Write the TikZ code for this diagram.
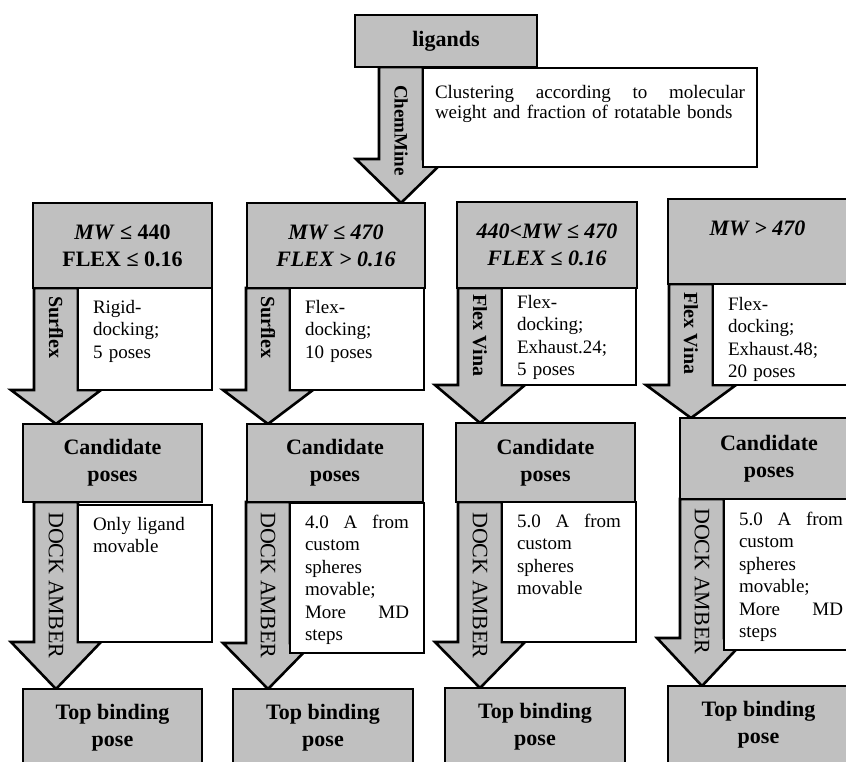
\documentclass[tikz,border=0pt]{standalone}
\usepackage{fontspec}
\setmainfont{Liberation Serif}
\usepackage{tikz}
\usetikzlibrary{calc}
\usepackage{xcolor}
\definecolor{flowgray}{RGB}{192,192,192}
\pgfdeclarelayer{back}
\pgfsetlayers{back,main}
\tikzset{
    % grey step boxes
    graybox/.style={rectangle, draw=black, fill=flowgray, line width=2.6pt,
                inner sep=0pt, outer sep=0pt, anchor=north west, align=center,
                font=\fontsize{22}{27}\selectfont\bfseries},
    % white side notes
    notebox/.style={rectangle, draw=black, fill=white, line width=2.6pt,
                inner xsep=15pt, inner ysep=0pt, outer sep=0pt, anchor=north west,
                text width=104pt, text height=25pt, align=left,
                font=\fontsize{19}{22.5}\selectfont},
    % labels on the arrows
    arrowlbl/.style={rotate=-90, anchor=west, inner sep=0pt,
                font=\fontsize{20}{24}\selectfont\bfseries},
    docklbl/.style={arrowlbl, font=\fontsize{22}{24}\selectfont},
    % block arrows
    blockarr/.style={draw=black, fill=flowgray, line width=2.6pt, line join=miter},
}
% block arrow: [lift of head] {from} {note beside it} {to}
\newcommand{\blockarrow}[4][0pt]{%
  \filldraw[blockarr] let \p1=(#2.south), \p2=(#3.south west), \p3=(#4.north) in
    (\x2-44pt,\y1) -- (\x2,\y1) -- (\x2,\y2+#1) -- (\x2+23pt,\y2+#1)
    -- (\x2-22pt,\y3) -- (\x2-67pt,\y2+#1) -- (\x2-44pt,\y2+#1) -- cycle;
}

\begin{document}
\begin{tikzpicture}[x=1pt, y=1pt]
\useasboundingbox (0,0) rectangle (846,-762);

% ligands
\node[graybox, minimum width=182pt, minimum height=52pt] (lig) at (355,-15) {ligands};
\node[notebox, inner xsep=12pt, text width=310pt, text height=31pt, text depth=68pt,
      font=\fontsize{19}{20}\selectfont] (clus) at (423,-68)
      {Clustering\hfill according\hfill to\hfill molecular\\ weight and fraction of rotatable bonds};

% clusters
\node[graybox, minimum width=179pt, minimum height=85pt] (c1) at (33,-203) {\textit{MW} ≤ 440\\ FLEX ≤ 0.16};
\node[graybox, minimum width=178pt, minimum height=85pt] (c2) at (247,-203) {\textit{MW ≤ 470}\\ \textit{FLEX > 0.16}};
\node[graybox, minimum width=180pt, minimum height=86pt] (c3) at (457,-202) {\textit{440<MW ≤ 470}\\ \textit{FLEX ≤ 0.16}};
\node[graybox, minimum width=179pt, minimum height=85pt] (c4) at (668,-199) {\textit{MW > 470}\\ \phantom{X}};

\node[notebox, text depth=77pt] (n1) at (78,-288) {Rigid-\\ docking;\\ 5 poses};
\node[notebox, text depth=77pt] (n2) at (290,-288) {Flex-\\ docking;\\ 10 poses};
\node[notebox, text height=20pt, text depth=77pt] (n3) at (502,-288) {Flex-\\ docking;\\ Exhaust.24;\\ 5 poses};
\node[notebox, text height=26pt, text depth=75pt] (n4) at (713,-284) {Flex-\\ docking;\\ Exhaust.48;\\ 20 poses};

% candidate poses
\node[graybox, minimum width=179pt, minimum height=78pt] (k1) at (23,-424) {Candidate\\ poses};
\node[graybox, minimum width=176pt, minimum height=78pt] (k2) at (247,-424) {Candidate\\ poses};
\node[graybox, minimum width=179pt, minimum height=79pt] (k3) at (456,-423) {Candidate\\ poses};
\node[graybox, minimum width=178pt, minimum height=81pt] (k4) at (680,-418) {Candidate\\ poses};

\node[notebox, text depth=112pt] (m1) at (78,-505) {Only ligand\\ movable};
\node[notebox, text depth=125pt] (m2) at (290,-503) {4.0\hfill A\hfill from\\ custom\\ spheres\\ movable;\\ More\hfill MD\\ steps};
\node[notebox, text depth=115pt] (m3) at (502,-502) {5.0\hfill A\hfill from\\ custom\\ spheres\\ movable};
\node[notebox, text height=26pt, text depth=125pt] (m4) at (724,-499) {5.0\hfill A\hfill from\\ custom\\ spheres\\ movable;\\ More\hfill MD\\ steps};

% top binding pose
\node[graybox, minimum width=179pt, minimum height=78pt] (t1) at (23,-689) {Top binding\\ pose};
\node[graybox, minimum width=180pt, minimum height=78pt] (t2) at (233,-689) {Top binding\\ pose};
\node[graybox, minimum width=180pt, minimum height=78pt] (t3) at (445,-688) {Top binding\\ pose};
\node[graybox, minimum width=181pt, minimum height=78pt] (t4) at (668,-686) {Top binding\\ pose};

% arrow labels
\node[arrowlbl, font=\fontsize{19}{22}\selectfont\bfseries] (l0) at ($(clus.north west)+(-22,-17)$) {ChemMine};
\node[arrowlbl] (l1) at ($(n1.north west)+(-22,-8)$) {Surflex};
\node[arrowlbl] (l2) at ($(n2.north west)+(-22,-8)$) {Surflex};
\node[arrowlbl] (l3) at ($(n3.north west)+(-22,-6)$) {Flex Vina};
\node[arrowlbl] (l4) at ($(n4.north west)+(-22,-8)$) {Flex Vina};
\node[docklbl] (d1) at ($(m1.north west)+(-22,-7)$) {DOCK AMBER};
\node[docklbl] (d2) at ($(m2.north west)+(-22,-9)$) {DOCK AMBER};
\node[docklbl] (d3) at ($(m3.north west)+(-22,-10)$) {DOCK AMBER};
\node[docklbl] (d4) at ($(m4.north west)+(-22,-9)$) {DOCK AMBER};

\begin{pgfonlayer}{back}
\blockarrow[8pt]{lig}{clus}{c2}
\blockarrow{c1}{n1}{k1}
\blockarrow{c2}{n2}{k2}
\blockarrow{c3}{n3}{k3}
\blockarrow{c4}{n4}{k4}
\blockarrow{k1}{m1}{t1}
\blockarrow[10pt]{k2}{m2}{t2}
\blockarrow{k3}{m3}{t3}
\blockarrow[12pt]{k4}{m4}{t4}
\end{pgfonlayer}
\end{tikzpicture}
\end{document}
